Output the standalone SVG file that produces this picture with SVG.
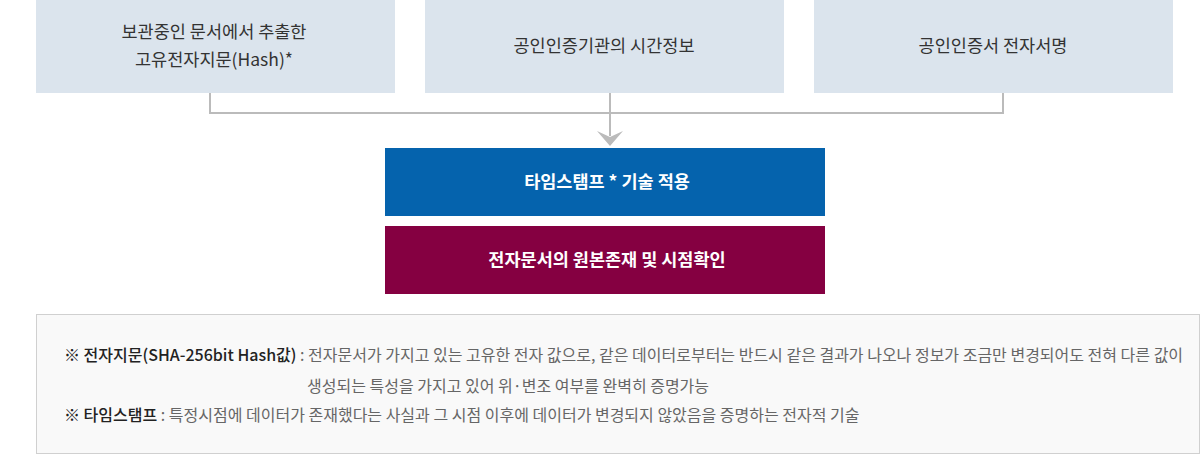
<svg xmlns="http://www.w3.org/2000/svg" width="1200" height="464" viewBox="0 0 1200 464">
<style>
.src{fill:#dbe4ed}
.t{font-family:"Noto Sans CJK KR","Noto Sans",sans-serif;text-anchor:middle}
.st{font-size:17.5px;fill:#333}
.wt{font-size:17.5px;font-weight:bold;fill:#fff}
.n{font-family:"Noto Sans CJK KR","Noto Sans",sans-serif;font-size:16px;fill:#666}
.nb{fill:#222;font-weight:500}
.con{fill:none;stroke:#bbbbbb;stroke-width:2}
</style>
<rect width="1200" height="464" fill="#fff"/>
<g id="n1"><rect class="src" x="36" y="0" width="359" height="93"/>
<text class="t st" x="214" y="38">보관중인 문서에서 추출한</text>
<text class="t st" x="214" y="66">고유전자지문(Hash)*</text></g>
<g id="n2"><rect class="src" x="425" y="0" width="359" height="93"/>
<text class="t st" x="604" y="52">공인인증기관의 시간정보</text></g>
<g id="n3"><rect class="src" x="814" y="0" width="359" height="93"/>
<text class="t st" x="993" y="52">공인인증서 전자서명</text></g>
<g id="connectors">
<path class="con" d="M210 93V113H1003V93"/>
<path class="con" d="M610 93V136"/>
<path d="M597 131L610 137L623 131L610 146Z" fill="#bbbbbb"/>
</g>
<g id="n4"><rect x="385" y="148" width="440" height="68" fill="#0563ad"/>
<text class="t wt" x="607" y="188">타임스탬프 * 기술 적용</text></g>
<g id="n5"><rect x="385" y="226" width="440" height="68" fill="#850041"/>
<text class="t wt" x="607" y="266">전자문서의 원본존재 및 시점확인</text></g>
<g id="note"><rect x="36.5" y="314.5" width="1163" height="139" fill="#f9f9f9" stroke="#d0d0d0"/>
<text class="n" x="64" y="361"><tspan class="nb">※ 전자지문(SHA-256bit Hash값)</tspan> : 전자문서가 가지고 있는 고유한 전자 값으로, 같은 데이터로부터는 반드시 같은 결과가 나오나 정보가 조금만 변경되어도 전혀 다른 값이</text>
<text class="n" x="307" y="392">생성되는 특성을 가지고 있어 위·변조 여부를 완벽히 증명가능</text>
<text class="n" x="64" y="421"><tspan class="nb">※ 타임스탬프</tspan> : 특정시점에 데이터가 존재했다는 사실과 그 시점 이후에 데이터가 변경되지 않았음을 증명하는 전자적 기술</text>
</g>
</svg>
